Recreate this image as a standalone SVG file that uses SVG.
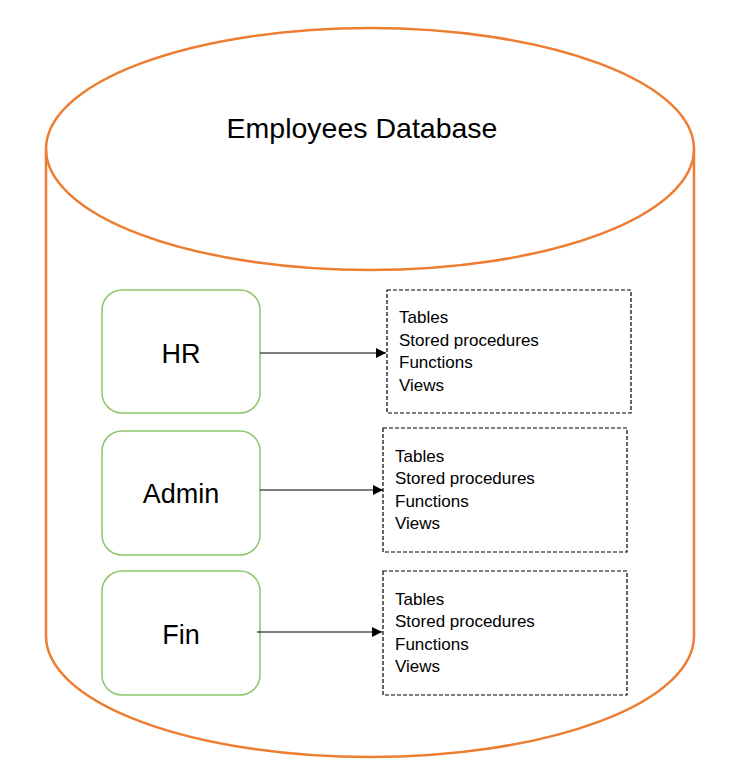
<svg xmlns="http://www.w3.org/2000/svg" width="732" height="780" viewBox="0 0 732 780">
<style>
.cyl{fill:none;stroke:#ED7D31;stroke-width:2.5}
.node{fill:#fff;stroke:#8CC56A;stroke-width:1.5}
.box{fill:#fff;stroke:#000;stroke-width:1.2;stroke-dasharray:4,2}
.lbl{font-family:"Liberation Sans",Arial,sans-serif;font-size:27px;fill:#000;text-anchor:middle}
.ttl{font-size:28.5px}
.lst{font-family:"Liberation Sans",Arial,sans-serif;font-size:17px;fill:#000}
.con{stroke:#000;stroke-width:1;fill:none}
</style>
<defs>
<marker id="arr" viewBox="0 0 10 10" refX="10" refY="5" markerWidth="10" markerHeight="10" markerUnits="userSpaceOnUse" orient="auto">
<path d="M0,0 L10,5 L0,10 Z" fill="#000"/>
</marker>
</defs>
<rect width="732" height="780" fill="#fff"/>
<g id="database">
<path class="cyl" d="M46,149 L46,636 A324,121 0 0 0 694,636 L694,149"/>
<ellipse class="cyl" cx="370" cy="149" rx="324" ry="121"/>
<text class="lbl ttl" x="362" y="138">Employees Database</text>
</g>
<g id="hr">
<rect class="node" x="102" y="290" width="158" height="123" rx="20"/>
<text class="lbl" x="181" y="363">HR</text>
</g>
<g id="admin">
<rect class="node" x="102" y="431" width="158" height="124" rx="20"/>
<text class="lbl" x="181" y="503">Admin</text>
</g>
<g id="fin">
<rect class="node" x="102" y="571" width="158" height="124" rx="20"/>
<text class="lbl" x="181" y="644">Fin</text>
</g>
<g id="hr-objects">
<rect class="box" x="387" y="290" width="244" height="123"/>
<text class="lst" x="399" y="323">Tables</text>
<text class="lst" x="399" y="345.5">Stored procedures</text>
<text class="lst" x="399" y="368">Functions</text>
<text class="lst" x="399" y="390.5">Views</text>
</g>
<g id="admin-objects">
<rect class="box" x="383" y="428" width="244" height="124"/>
<text class="lst" x="395" y="461.5">Tables</text>
<text class="lst" x="395" y="484">Stored procedures</text>
<text class="lst" x="395" y="506.5">Functions</text>
<text class="lst" x="395" y="529">Views</text>
</g>
<g id="fin-objects">
<rect class="box" x="383" y="571" width="244" height="124"/>
<text class="lst" x="395" y="604.5">Tables</text>
<text class="lst" x="395" y="627">Stored procedures</text>
<text class="lst" x="395" y="649.5">Functions</text>
<text class="lst" x="395" y="672">Views</text>
</g>
<g id="connectors">
<line class="con" x1="260" y1="353" x2="386" y2="353" marker-end="url(#arr)"/>
<line class="con" x1="260" y1="490" x2="383" y2="490" marker-end="url(#arr)"/>
<line class="con" x1="257" y1="632" x2="382" y2="632" marker-end="url(#arr)"/>
</g>
</svg>
